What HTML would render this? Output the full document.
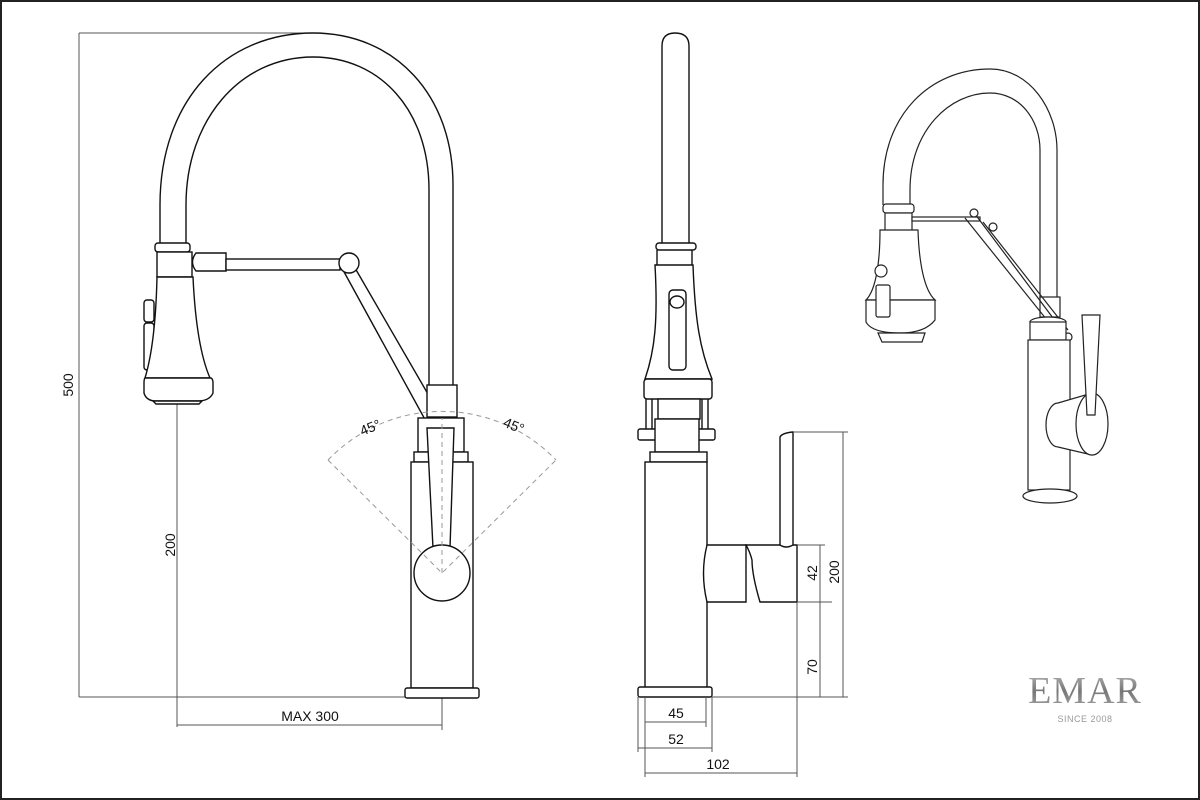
<!DOCTYPE html>
<html><head><meta charset="utf-8"><style>
html,body{margin:0;padding:0;background:#fff}
svg{display:block}
text{font-family:"Liberation Sans",Arial,sans-serif;fill:#111}
</style></head><body>
<svg width="1200" height="800" viewBox="0 0 1200 800" xmlns="http://www.w3.org/2000/svg">
<defs><linearGradient id="lg" x1="0" y1="0" x2="0" y2="1"><stop offset="0" stop-color="#bbb"/><stop offset="0.5" stop-color="#777"/><stop offset="1" stop-color="#aaa"/></linearGradient></defs>
<rect x="1" y="1" width="1198" height="798" fill="#fff" stroke="#222" stroke-width="2"/>
<!-- dimensions left -->
<g stroke="#555" stroke-width="1" fill="none">
<path d="M79,33 H310 M79,33 V697 M79,697 H405 M177,403 V727 M177,725 H442 M442,697 V730"/>
</g>
<text transform="translate(73,385) rotate(-90)" font-size="14" text-anchor="middle">500</text>
<text transform="translate(175,545) rotate(-90)" font-size="14" text-anchor="middle">200</text>
<text x="310" y="721" font-size="14" text-anchor="middle">MAX 300</text>
<!-- left faucet -->
<g stroke="#111" stroke-width="1.4" fill="#fff">
<path d="M160,245 V205 C160,100 225,33 313,33 C395,33 453,95 453,185 V385" fill="none"/>
<path d="M186,245 V205 C186,120 240,57 313,57 C380,57 429,110 429,190 V385" fill="none"/>
<rect x="155" y="243" width="35" height="9" rx="3"/>
<rect x="157" y="252" width="35" height="25"/>
<path d="M196,253 H226 V271 H196 Q189,262 196,253Z"/>
<rect x="226" y="259" width="114" height="11"/>
<path d="M343,270 L428,425 M355,268 L443,420" fill="none"/>
<circle cx="349" cy="263" r="10"/>
<rect x="144" y="300" width="10" height="22" rx="3"/>
<rect x="144" y="323" width="10" height="47" rx="3"/>
<path d="M157,277 H193 C195,320 200,355 210,378 H145 C152,355 156,320 157,277Z"/>
<path d="M145,378 H211 Q213,379 213,383 V393 Q210,400 200,401 H154 Q146,400 144,393 V383 Q144,379 145,378Z"/>
<path d="M153,401 H202 L199,404 H156Z"/>
<rect x="427" y="385" width="30" height="32"/>
<rect x="418" y="418" width="46" height="34"/>
<rect x="414" y="452" width="54" height="10"/>
<rect x="411" y="462" width="62" height="226"/>
<rect x="405" y="688" width="74" height="10" rx="2"/>
<path d="M427,428 H454 L450,548 H433Z"/>
<circle cx="442" cy="573" r="28"/>
</g>
<g stroke="#999" stroke-width="1" fill="none" stroke-dasharray="5,4">
<path d="M328,460 A158,158 0 0 1 556,460"/>
<path d="M328,460 L442,573 L556,460 M442,573 V418"/>
</g>
<text transform="translate(372,432) rotate(-22)" font-size="14" text-anchor="middle">45°</text>
<text transform="translate(512,430) rotate(22)" font-size="14" text-anchor="middle">45°</text>
<!-- middle view -->
<g stroke="#111" stroke-width="1.4" fill="#fff">
<path d="M662,246 V46 Q662,33 675,33 Q689,33 689,46 V246Z"/>
<rect x="656" y="243" width="40" height="7" rx="3"/>
<path d="M657,250 V266 M692,250 V266" fill="none"/>
<path d="M655,265 H693 C695,320 700,350 712,379 H645 C655,350 658,320 655,265Z"/>
<rect x="669" y="290" width="17" height="80" rx="4"/>
<ellipse cx="677" cy="302" rx="7" ry="6"/>
<rect x="644" y="379" width="68" height="20" rx="3"/>
<path d="M646,399 V430 M652,399 V430 M702,399 V430 M708,399 V430" fill="none"/>
<rect x="658" y="399" width="42" height="20"/>
<rect x="638" y="429" width="77" height="11" rx="2"/>
<rect x="655" y="419" width="44" height="33"/>
<rect x="650" y="452" width="57" height="10"/>
<rect x="645" y="462" width="62" height="226"/>
<rect x="638" y="687" width="74" height="10" rx="2"/>
<path d="M707,545 H746 V602 H707 Q700,573 707,545Z"/>
<path d="M746,545 H797 V602 H760 Q752,575 752,560 Q750,552 746,545Z"/>
<path d="M780,545 V437 Q782,433 793,432 V545 Q786,549 780,545Z"/>
</g>
<g stroke="#555" stroke-width="1" fill="none">
<path d="M793,432 H848 M797,545 H825 M797,602 H832 M712,697 H848 M820,545 V697 M843,432 V697"/>
<path d="M638,697 V752 M645,697 V777 M706,697 V727 M712,697 V752 M797,602 V777"/>
<path d="M645,722 H706 M638,748 H712 M645,773 H797"/>
</g>
<text transform="translate(817,573) rotate(-90)" font-size="14" text-anchor="middle">42</text>
<text transform="translate(839,572) rotate(-90)" font-size="14" text-anchor="middle">200</text>
<text transform="translate(817,667) rotate(-90)" font-size="14" text-anchor="middle">70</text>
<text x="676" y="718" font-size="14" text-anchor="middle">45</text>
<text x="676" y="744" font-size="14" text-anchor="middle">52</text>
<text x="718" y="769" font-size="14" text-anchor="middle">102</text>
<!-- right perspective view -->
<g stroke="#222" stroke-width="1.2" fill="#fff">
<path d="M883,205 V185 C883,115 930,69 990,69 C1030,69 1057,110 1057,150 V298" fill="none"/>
<path d="M910,205 V190 C910,130 950,93 990,93 C1020,93 1040,120 1040,150 V298" fill="none"/>
<rect x="883" y="204" width="31" height="9" rx="3"/>
<rect x="885" y="213" width="27" height="19"/>
<rect x="912" y="217" width="68" height="4"/>
<path d="M880,230 H918 C919,262 924,290 935,300 H866 C876,290 880,262 880,230Z"/>
<path d="M866,300 H935 V320 Q925,333 900,333 Q872,333 866,322Z"/>
<path d="M878,333 H925 L922,342 H882Z"/>
<circle cx="881" cy="271" r="6"/>
<rect x="876" y="285" width="14" height="32" rx="2"/>
<rect x="1040" y="297" width="20" height="20"/>
<path d="M972,210 L1062,330 M983,222 L1068,330 M965,218 L1055,330" fill="none"/>
<circle cx="974" cy="213" r="4"/>
<circle cx="993" cy="227" r="4"/>
<circle cx="1068" cy="337" r="4"/>
<ellipse cx="1048" cy="322" rx="18" ry="5"/>
<rect x="1030" y="322" width="36" height="18"/>
<rect x="1028" y="340" width="42" height="150"/>
<ellipse cx="1050" cy="496" rx="27" ry="7"/>
<path d="M1058,403 L1092,393 L1092,455 L1058,447 A12,22 0 0 1 1058,403Z"/>
<ellipse cx="1092" cy="424" rx="16" ry="31"/>
<path d="M1082,315 H1100 L1095,415 H1087Z"/>
</g>
<!-- logo -->
<text x="1085" y="703" font-size="38" text-anchor="middle" style="fill:url(#lg);font-family:'Liberation Serif',serif" letter-spacing="1">EMAR</text>
<text x="1085" y="722" font-size="9" text-anchor="middle" style="fill:#999" letter-spacing="0.5">SINCE 2008</text>
</svg>
</body></html>
